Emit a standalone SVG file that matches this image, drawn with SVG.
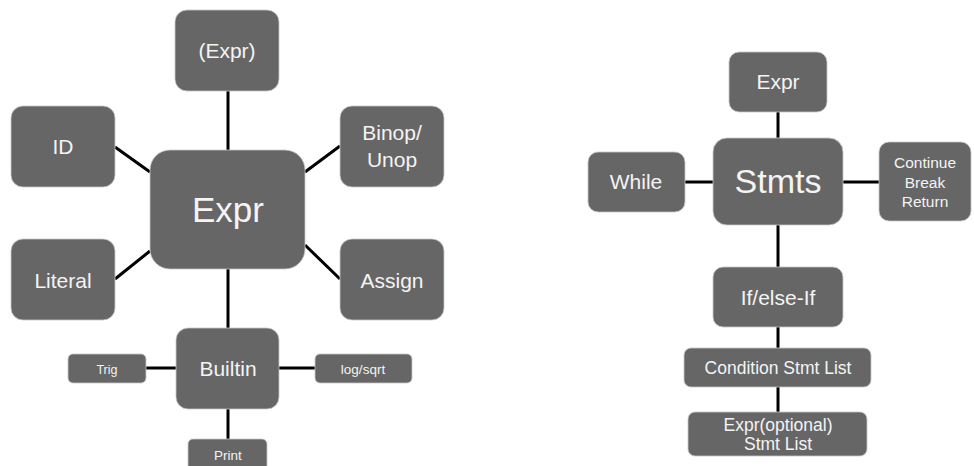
<svg xmlns="http://www.w3.org/2000/svg" width="974" height="466" viewBox="0 0 974 466">
<style>
.box{fill:#666666;stroke:#c8c8c8;stroke-width:0.8}
.t{fill:#f4f4f4;font-family:"Liberation Sans",Arial,sans-serif;text-anchor:middle}
.c line{stroke:#000;stroke-width:3}
</style>
<rect width="974" height="466" fill="#ffffff"/>
<g class="c" id="connectors">
<line x1="228" y1="91" x2="228" y2="150"/>
<line x1="115" y1="147" x2="150" y2="172"/>
<line x1="305" y1="172" x2="340" y2="146"/>
<line x1="115" y1="279" x2="150" y2="251"/>
<line x1="305" y1="245" x2="340" y2="279"/>
<line x1="228" y1="269" x2="228" y2="328"/>
<line x1="146" y1="368" x2="176" y2="368"/>
<line x1="279" y1="368" x2="315" y2="368"/>
<line x1="228" y1="409" x2="228" y2="439"/>
<line x1="778" y1="112" x2="778" y2="138"/>
<line x1="685" y1="182" x2="713" y2="182"/>
<line x1="843" y1="182" x2="879" y2="182"/>
<line x1="778" y1="225" x2="778" y2="267"/>
<line x1="778" y1="327" x2="778" y2="348"/>
<line x1="778" y1="387" x2="778" y2="412"/>
</g>
<g id="expr-main"><rect class="box" x="150" y="150" width="155" height="119" rx="20"/><text class="t" x="228" y="222" font-size="35">Expr</text></g>
<g id="paren-expr"><rect class="box" x="175" y="10" width="104" height="81" rx="12"/><text class="t" x="227" y="58" font-size="21">(Expr)</text></g>
<g id="id"><rect class="box" x="11" y="106" width="104" height="81" rx="12"/><text class="t" x="63" y="154" font-size="21">ID</text></g>
<g id="binop"><rect class="box" x="340" y="106" width="104" height="81" rx="12"/><text class="t" x="392" y="140" font-size="21">Binop/</text><text class="t" x="392" y="167" font-size="21">Unop</text></g>
<g id="literal"><rect class="box" x="11" y="239" width="104" height="81" rx="12"/><text class="t" x="63" y="288" font-size="21">Literal</text></g>
<g id="assign"><rect class="box" x="340" y="239" width="104" height="81" rx="12"/><text class="t" x="392" y="288" font-size="21">Assign</text></g>
<g id="builtin"><rect class="box" x="176" y="328" width="103" height="81" rx="12"/><text class="t" x="228" y="376" font-size="21">Builtin</text></g>
<g id="trig"><rect class="box" x="68" y="354" width="78" height="29" rx="5"/><text class="t" x="107" y="374" font-size="12.5">Trig</text></g>
<g id="logsqrt"><rect class="box" x="315" y="354" width="97" height="29" rx="5"/><text class="t" x="363" y="374" font-size="13.5">log/sqrt</text></g>
<g id="print"><rect class="box" x="188" y="439" width="79" height="34" rx="5"/><text class="t" x="228" y="460" font-size="13.5">Print</text></g>
<g id="stmts"><rect class="box" x="713" y="138" width="130" height="87" rx="14"/><text class="t" x="778" y="193" font-size="34">Stmts</text></g>
<g id="expr-s"><rect class="box" x="729" y="52" width="98" height="60" rx="10"/><text class="t" x="778" y="89" font-size="21">Expr</text></g>
<g id="while"><rect class="box" x="588" y="152" width="97" height="60" rx="10"/><text class="t" x="636" y="189" font-size="21">While</text></g>
<g id="continue"><rect class="box" x="879" y="142" width="92" height="79" rx="10"/><text class="t" x="925" y="168" font-size="15.5">Continue</text><text class="t" x="925" y="188" font-size="15.5">Break</text><text class="t" x="925" y="207" font-size="15.5">Return</text></g>
<g id="ifelse"><rect class="box" x="713" y="267" width="130" height="60" rx="10"/><text class="t" x="778" y="305" font-size="21">If/else-If</text></g>
<g id="cond"><rect class="box" x="684" y="348" width="187" height="39" rx="7"/><text class="t" x="778" y="374" font-size="17.5">Condition Stmt List</text></g>
<g id="optional"><rect class="box" x="688" y="412" width="179" height="44" rx="7"/><text class="t" x="778" y="431" font-size="17.5">Expr(optional)</text><text class="t" x="778" y="450" font-size="17.5">Stmt List</text></g>
</svg>
